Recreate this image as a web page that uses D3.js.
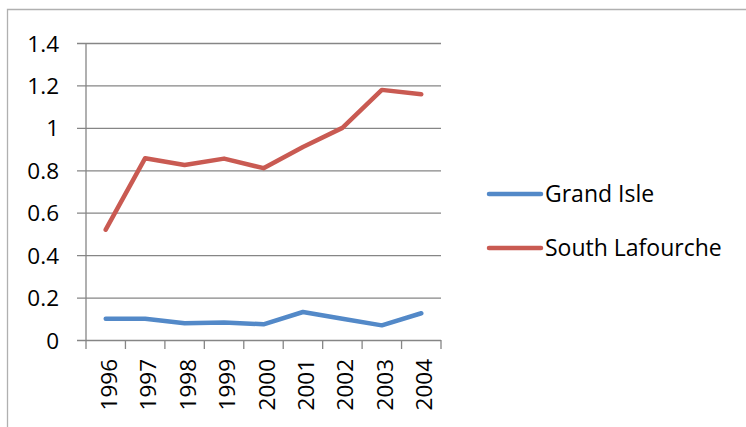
<!DOCTYPE html>
<html>
<head>
<meta charset="utf-8">
<script src="https://cdn.jsdelivr.net/npm/d3@7"></script>
<style>
  body { margin: 0; background: #fff; }
  svg text { font-family: "Open Sans", sans-serif; fill: #000; }
</style>
</head>
<body>
<svg id="chart"></svg>
<script>
// chart data
const years = ["1996", "1997", "1998", "1999", "2000", "2001", "2002", "2003", "2004"];
const grandIsle = [0.10, 0.10, 0.079, 0.083, 0.074, 0.132, 0.10, 0.069, 0.126];
const southLafourche = [0.52, 0.857, 0.825, 0.855, 0.81, 0.91, 1.0, 1.179, 1.158];
const seriesNames = ["Grand Isle", "South Lafourche"];
const yTicks = [0, 0.2, 0.4, 0.6, 0.8, 1, 1.2, 1.4];

const width = 746, height = 427;
const plot = {left: 86, right: 441, top: 43, bottom: 340};
const colors = ["#5389C8", "#C95A52"];
const fontSize = 22.5;

const svg = d3.select("#chart").attr("width", width).attr("height", height);

// outer chart border (only top/left visible in the frame)
svg.append("path")
  .attr("d", "M7.5,428 V9.5 H747")
  .attr("fill", "none").attr("stroke", "#b0b0b0").attr("stroke-width", 1.3);

const x = d3.scaleBand().domain(years).range([plot.left, plot.right]);
const y = d3.scaleLinear().domain([0, 1.4]).range([plot.bottom, plot.top]);

// gridlines + y axis
const yAxis = d3.axisLeft(y).tickValues(yTicks).tickSize(9).tickPadding(18)
  .tickFormat(d => d3.format("")(d));
const gy = svg.append("g").attr("transform", `translate(${plot.left},0)`).call(yAxis);
gy.select(".domain").remove();
gy.selectAll(".tick line").attr("stroke", "#868686").attr("stroke-width", 1.3)
  .attr("x1", -9).attr("x2", plot.right - plot.left);
gy.selectAll(".tick text").attr("font-size", fontSize).attr("dy", "0.36em");

svg.append("line")
  .attr("x1", plot.left).attr("x2", plot.left)
  .attr("y1", plot.top).attr("y2", plot.bottom)
  .attr("stroke", "#868686").attr("stroke-width", 1.3);

// x axis: ticks sit between the categories
const gx = svg.append("g").attr("transform", `translate(0,${plot.bottom})`);
const edges = years.map(d => x(d)).concat([plot.right]);
gx.selectAll("line.tk").data(edges).enter().append("line")
  .attr("x1", d => d).attr("x2", d => d).attr("y1", 0).attr("y2", 9)
  .attr("stroke", "#868686").attr("stroke-width", 1.3);
gx.selectAll("text").data(years).enter().append("text")
  .attr("transform", d => `translate(${x(d) + x.bandwidth() / 2 + 11},19) rotate(-90)`)
  .attr("text-anchor", "end")
  .attr("font-size", fontSize)
  .text(d => d);

// lines
const line = d3.line()
  .x((d, i) => x(years[i]) + x.bandwidth() / 2)
  .y(d => y(d));
[grandIsle, southLafourche].forEach((vals, i) => {
  svg.append("path")
    .attr("d", line(vals))
    .attr("fill", "none")
    .attr("stroke", colors[i])
    .attr("stroke-width", 4.5)
    .attr("stroke-linejoin", "round")
    .attr("stroke-linecap", "round");
});

// legend
const legend = svg.append("g");
seriesNames.forEach((name, i) => {
  const ly = 194 + i * 54;
  legend.append("line")
    .attr("x1", 489).attr("x2", 541).attr("y1", ly).attr("y2", ly)
    .attr("stroke", colors[i]).attr("stroke-width", 4.5).attr("stroke-linecap", "round");
  legend.append("text")
    .attr("x", 545).attr("y", ly).attr("dy", "0.35em")
    .attr("font-size", 23)
    .text(name);
});
</script>
</body>
</html>
